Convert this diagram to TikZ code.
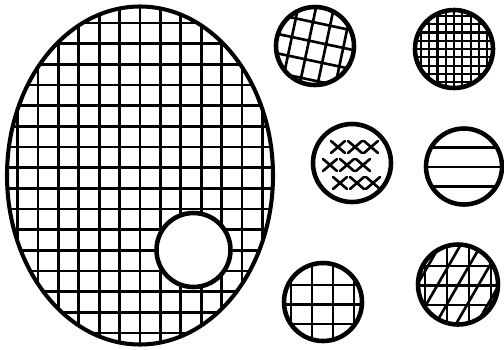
\documentclass[tikz,border=0pt]{standalone}
\usepackage{tikz}
\usetikzlibrary{calc}
\tikzset{
  every picture/.append style={line cap=round,line join=round},
  plate rim/.style={line width=2.3pt},
  swatch rim/.style={line width=2.6pt},
  hatch line/.style={line width=1.5pt},
  fine hatch/.style={line width=1.25pt}
}

\begin{document}
\begin{tikzpicture}[x=0.02cm,y=-0.02cm]
\useasboundingbox (0,0) rectangle (504,349);
\coordinate (plate) at (140,175.5);
\coordinate (hole) at (193.5,250);
\coordinate (skew) at (315,46);
\coordinate (mesh) at (454,49);
\coordinate (cross) at (352,163);
\coordinate (stripe) at (464,166.5);
\coordinate (coarse) at (323,302);
\coordinate (slant) at (458,284.5);
% large plate with square grid
\begin{scope}
  \clip (plate) ellipse (133 and 169);
  \foreach \i in {0,...,12}
    \draw[hatch line] (17.6+20.4*\i,0) -- (17.6+20.4*\i,349);
  \foreach \j in {0,...,15}
    \draw[hatch line] (0,23+20.67*\j) -- (290,23+20.67*\j);
\end{scope}
\draw[swatch rim,fill=white] (hole) circle (37);
\draw[plate rim] (plate) ellipse (133 and 169);
% skewed grid
\begin{scope}
  \clip (skew) circle (39);
  \begin{scope}[shift={(skew)},rotate=-12]
    \foreach \k in {0,...,6} {
      \draw[hatch line] (-59.5+17.5*\k,-60) -- (-59.5+17.5*\k,60);
      \draw[hatch line] (-60,-61+19*\k) -- (60,-61+19*\k);
    }
  \end{scope}
\end{scope}
\draw[swatch rim] (skew) circle (39);
% fine mesh
\begin{scope}
  \clip (mesh) circle (39);
  \foreach \k in {0,...,10} {
    \draw[fine hatch] (412.5+8.3*\k,5) -- (412.5+8.3*\k,95);
    \draw[fine hatch] (410,7.5+8.3*\k) -- (500,7.5+8.3*\k);
  }
\end{scope}
\draw[swatch rim] (mesh) circle (39);
% crosses
\foreach \cx/\cy in {338/147,355/147,371/147,330/165,347/165,363/165,340/183,357/183,373/183}
  \draw[hatch line] (\cx-7,\cy-6) -- (\cx+7,\cy+6) (\cx-7,\cy+6) -- (\cx+7,\cy-6);
\draw[swatch rim] (cross) circle (39);
% stripes
\begin{scope}
  \clip (stripe) circle (38);
  \foreach \y in {147.5,167,186.5}
    \draw[hatch line] (420,\y) -- (510,\y);
\end{scope}
\draw[swatch rim] (stripe) circle (38);
% coarse grid
\begin{scope}
  \clip (coarse) circle (39);
  \foreach \x in {291,312,333,354}
    \draw[hatch line] (\x,255) -- (\x,350);
  \foreach \y in {285,304.5,324}
    \draw[hatch line] (280,\y) -- (370,\y);
\end{scope}
\draw[swatch rim] (coarse) circle (39);
% grid with slant lines
\begin{scope}
  \clip (slant) circle (40);
  \foreach \x in {425,447,469,491}
    \draw[hatch line] (\x,240) -- (\x,330);
  \foreach \y in {266,285.5,305}
    \draw[hatch line] (410,\y) -- (505,\y);
  \foreach \k in {0,...,5}
    \draw[hatch line] (366.5+20.5*\k,337) -- (426.5+20.5*\k,233);
\end{scope}
\draw[swatch rim] (slant) circle (40);
\end{tikzpicture}
\end{document}
